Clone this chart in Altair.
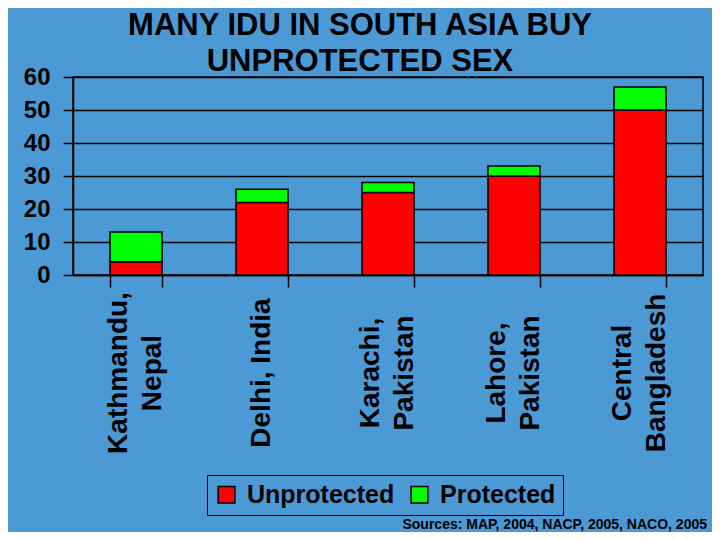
import altair as alt
import pandas as pd

cities = ["Kathmandu, Nepal", "Delhi, India", "Karachi, Pakistan", "Lahore, Pakistan", "Central Bangladesh"]
label_lines = [["Kathmandu,", "Nepal"], ["Delhi, India"], ["Karachi,", "Pakistan"], ["Lahore,", "Pakistan"], ["Central", "Bangladesh"]]
unprotected = [4, 22, 25, 30, 50]
protected = [9, 4, 3, 3, 7]
series = ["Unprotected", "Protected"]
colors = ["#ff0000", "#00ff00"]
title_lines = ["MANY IDU IN SOUTH ASIA BUY", "UNPROTECTED SEX"]
source_note = "Sources: MAP, 2004, NACP, 2005, NACO, 2005"

rows = []
for c, u, p in zip(cities, unprotected, protected):
    rows.append({"city": c, "type": "Unprotected", "value": u, "ord": 0})
    rows.append({"city": c, "type": "Protected", "value": p, "ord": 1})
df = pd.DataFrame(rows)

lab_rows = []
for c, lines in zip(cities, label_lines):
    slots = ["C"] if len(lines) == 1 else ["L1", "L2"]
    for s, t in zip(slots, lines):
        lab_rows.append({"city": c, "slot": s, "text": t})
labdf = pd.DataFrame(lab_rows)

FONT = "Liberation Sans"

bars = alt.Chart(df).mark_bar(stroke="black", strokeWidth=1.5, width=52).encode(
    x=alt.X("city:N", sort=cities, title=None,
            scale=alt.Scale(paddingInner=0.59, paddingOuter=0.295),
            axis=alt.Axis(labels=False,
                          tickBand="extent", tickSize=12, tickColor="black", tickWidth=1.5,
                          domainColor="black", domainWidth=1.5)),
    y=alt.Y("value:Q", stack="zero", title=None,
            scale=alt.Scale(domain=[0, 60]),
            axis=alt.Axis(values=[0, 10, 20, 30, 40, 50, 60], ticks=True, tickSize=10,
                          tickColor="black", tickWidth=1.5,
                          labelFontSize=24, labelFontWeight="bold", labelFont=FONT,
                          labelColor="black", labelPadding=13,
                          grid=True, gridColor="black", gridWidth=1.5, gridOpacity=1,
                          domainColor="black", domainWidth=1.5)),
    color=alt.Color("type:N", scale=alt.Scale(domain=series, range=colors), title=None,
                    legend=alt.Legend(orient="none", legendX=134, legendY=398,
                                      direction="horizontal", strokeColor="black",
                                      padding=7, symbolType="square", symbolSize=280,
                                      symbolStrokeColor="black", symbolStrokeWidth=1.5,
                                      labelFontSize=25, labelFontWeight="bold", labelFont=FONT,
                                      labelColor="black", labelOffset=8, columnPadding=12,
                                      symbolOpacity=1, labelLimit=300)),
    order=alt.Order("ord:Q"),
)

labels = alt.Chart(labdf).mark_text(
    angle=270, align="center", baseline="middle", fontSize=28, fontWeight="bold",
    font=FONT, color="black"
).encode(
    x=alt.X("city:N", sort=cities),
    xOffset=alt.XOffset("slot:N", scale=alt.Scale(type="point", domain=["L1", "C", "L2"], padding=0.486)),
    y=alt.value(296),
    text="text:N",
)

note = alt.Chart(pd.DataFrame({"t": [source_note]})).mark_text(
    align="right", baseline="alphabetic", fontSize=14, fontWeight="bold", font=FONT, color="black"
).encode(x=alt.value(634), y=alt.value(452), text="t:N")

chart = alt.layer(bars, labels, note).properties(
    width=630, height=198,
    title=alt.TitleParams(title_lines, fontSize=31, fontWeight="bold", font=FONT, color="black",
                          anchor="middle", dx=-28, dy=23, lineHeight=36, offset=10),
    background="#4c9ad5",
    autosize=alt.AutoSizeParams(type="none"),
    padding={"left": 65, "top": 69, "right": 9, "bottom": 257},
).configure_view(stroke="black", strokeWidth=1.5)

chart.save("out.html", embed_options={"renderer": "svg", "actions": False})
